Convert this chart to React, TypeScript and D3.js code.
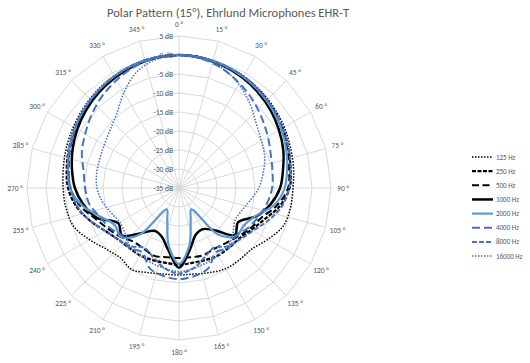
import React from "react";
import * as d3 from "d3";

const title = "Polar Pattern (15°), Ehrlund Microphones EHR-T";

// grid spokes / angle labels (degrees)
const spokeAngles = [0, 15, 30, 45, 60, 75, 90, 105, 120, 135, 150, 165, 180, 195, 210, 225, 240, 255, 270, 285, 300, 315, 330, 345];
const dbTicks = [-35, -30, -25, -20, -15, -10, -5, 0, 5];

// measurement angles (degrees)
const angles = [0, 10, 20, 30, 40, 50, 60, 70, 80, 90, 100, 110, 120, 130, 140, 150, 160, 170, 180, 190, 200, 210, 220, 230, 240, 250, 260, 270, 280, 290, 300, 310, 320, 330, 340, 350];

const hz125 = [0, -0.2, -0.6, -1.0, -1.6, -2.3, -3.0, -3.8, -4.4, -5.0, -5.2, -5.8, -8.0, -10.0, -10.3, -10.5, -11.3, -12.0, -12.1, -12.0, -11.3, -10.2, -11.0, -10.0, -7.8, -5.5, -4.8, -4.5, -4.1, -3.5, -2.9, -2.2, -1.5, -0.9, -0.4, -0.1];
const hz250 = [0, -0.2, -0.7, -1.2, -1.9, -2.7, -3.5, -4.4, -5.2, -5.9, -8.0, -11.0, -13.0, -14.3, -14.5, -14.5, -14.8, -15.0, -14.8, -15.0, -14.8, -14.5, -14.5, -14.0, -12.5, -10.0, -7.5, -5.8, -5.0, -4.2, -3.4, -2.6, -1.8, -1.1, -0.5, -0.1];
const hz500 = [0, -0.2, -0.7, -1.3, -2.0, -2.8, -3.7, -4.7, -5.6, -6.3, -8.8, -12.0, -13.5, -15.0, -16.0, -16.5, -16.2, -16.5, -16.6, -16.5, -16.0, -16.5, -16.5, -15.0, -13.5, -11.5, -8.5, -6.4, -5.5, -4.5, -3.6, -2.7, -1.9, -1.2, -0.5, -0.1];
const hz1000 = [0, -0.3, -0.8, -1.5, -2.4, -3.4, -4.6, -5.8, -7.2, -8.4, -10.5, -13.3, -17.0, -15.8, -20.5, -22.5, -22.0, -18.5, -14.0, -18.5, -21.5, -22.0, -19.5, -15.5, -16.5, -12.0, -9.5, -7.6, -6.4, -5.2, -4.1, -3.1, -2.2, -1.4, -0.7, -0.2];
const hz2000 = [0, -0.2, -0.6, -1.2, -2.0, -2.9, -3.9, -5.0, -6.1, -7.2, -9.5, -13.5, -15.3, -15.3, -19.0, -28.5, -26.0, -19.5, -15.0, -19.5, -26.0, -28.5, -19.0, -15.0, -15.5, -13.0, -9.0, -6.3, -5.3, -4.3, -3.4, -2.5, -1.7, -1.0, -0.4, -0.1];
const hz4000 = [0, -0.5, -1.6, -3.2, -4.8, -6.5, -8.0, -9.3, -10.0, -10.5, -11.5, -12.8, -14.0, -15.5, -14.5, -15.5, -12.5, -11.5, -11.0, -11.5, -12.5, -15.5, -14.5, -15.5, -14.0, -12.8, -11.0, -10.3, -9.5, -7.8, -6.5, -5.0, -3.5, -2.2, -1.0, -0.3];
const hz8000 = [0, -0.2, -0.6, -1.1, -1.8, -2.6, -3.4, -4.3, -5.2, -6.0, -7.5, -10.0, -12.5, -14.0, -15.0, -16.8, -15.5, -13.5, -12.5, -13.5, -15.5, -16.8, -15.0, -14.0, -12.5, -10.0, -7.8, -6.5, -5.4, -4.4, -3.5, -2.6, -1.8, -1.1, -0.5, -0.1];
const hz16000 = [0, -0.4, -1.5, -3.5, -6.0, -8.5, -10.0, -11.0, -12.5, -14.0, -16.0, -17.5, -18.0, -16.5, -15.0, -14.5, -14.0, -13.5, -13.0, -13.5, -14.0, -14.5, -15.0, -16.5, -17.0, -16.0, -14.5, -13.4, -13.0, -12.8, -12.3, -11.3, -9.5, -6.0, -2.5, -0.6];

const seriesNames = ["125 Hz", "250 Hz", "500 Hz", "1000 Hz", "2000 Hz", "4000 Hz", "8000 Hz", "16000 Hz"];
const seriesValues = [hz125, hz250, hz500, hz1000, hz2000, hz4000, hz8000, hz16000];

const styles = [
  { color: "#000000", width: 1.5, dash: "1.5 1.5" },
  { color: "#000000", width: 2.2, dash: "4 1.5" },
  { color: "#000000", width: 2, dash: "7 3.5" },
  { color: "#000000", width: 2.5, dash: "" },
  { color: "#5B9BD5", width: 2.2, dash: "" },
  { color: "#4472C4", width: 2, dash: "8 4" },
  { color: "#4472C4", width: 2, dash: "5 2" },
  { color: "#4472C4", width: 1.6, dash: "1.5 1.5" },
];

const W = 530;
const H = 363;
const cx = 179;
const cy = 188;
const R = 152;
const font = "Calibri, Carlito, 'Liberation Sans', Arial, sans-serif";
const textColor = "#595959";

export default function App() {
  const r = d3.scaleLinear().domain([-35, 5]).range([0, R]);
  const rad = (deg: number) => (deg * Math.PI) / 180;

  const ring = d3
    .lineRadial<number>()
    .angle((a) => rad(a))
    .radius(0)
    .curve(d3.curveLinearClosed);

  const curve = (vals: number[]) =>
    d3
      .lineRadial<number>()
      .angle((_, i) => rad(angles[i]))
      .radius((v) => r(v))
      .curve(d3.curveCatmullRomClosed.alpha(0.5))(vals);

  return (
    <svg width={W} height={H} style={{ position: "absolute", left: 0, top: 0, background: "#fff" }}>
      <text x={228} y={17} textAnchor="middle" fontFamily={font} fontSize={12.5} fill={textColor}>
        {title}
      </text>
      <g transform={`translate(${cx},${cy})`}>
        {dbTicks.slice(1).map((t) => (
          <path key={t} d={ring.radius(r(t))(spokeAngles) || ""} fill="none" stroke="#d9d9d9" strokeWidth={1} />
        ))}
        {spokeAngles.map((a) => (
          <line key={a} x1={0} y1={0} x2={R * Math.sin(rad(a))} y2={-R * Math.cos(rad(a))} stroke="#d9d9d9" strokeWidth={1} />
        ))}
        {spokeAngles.map((a) => (
          <text
            key={"l" + a}
            x={164 * Math.sin(rad(a))}
            y={-164 * Math.cos(rad(a))}
            textAnchor="middle"
            dominantBaseline="central"
            fontFamily={font}
            fontSize={7.5}
            fill={textColor}
          >
            {`${a} °`}
          </text>
        ))}
        {seriesValues.map((vals, i) => (
          <path
            key={seriesNames[i]}
            d={curve(vals) || ""}
            fill="none"
            stroke={styles[i].color}
            strokeWidth={styles[i].width}
            strokeDasharray={styles[i].dash || undefined}
            strokeLinejoin="round"
          />
        ))}
        {dbTicks.map((t) => (
          <text
            key={"d" + t}
            x={-6}
            y={-r(t)}
            textAnchor="end"
            dominantBaseline="central"
            fontFamily={font}
            fontSize={7.5}
            fill={textColor}
          >
            {`${t} dB`}
          </text>
        ))}
      </g>
      <g>
        {seriesNames.map((name, i) => {
          const y = 157 + i * 14.15;
          return (
            <g key={name}>
              <line
                x1={472}
                x2={493}
                y1={y}
                y2={y}
                stroke={styles[i].color}
                strokeWidth={styles[i].width}
                strokeDasharray={styles[i].dash || undefined}
              />
              <text x={496} y={y} dominantBaseline="central" fontFamily={font} fontSize={7} fill={textColor}>
                {name}
              </text>
            </g>
          );
        })}
      </g>
    </svg>
  );
}
